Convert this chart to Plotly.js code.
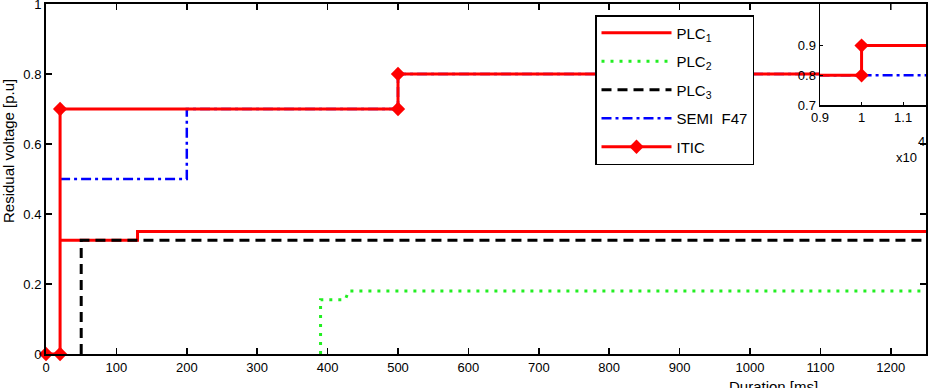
<!DOCTYPE html>
<html>
<head>
<meta charset="utf-8">
<script src="https://cdn.plot.ly/plotly-3.0.1.min.js"></script>
<style>html,body{margin:0;padding:0;background:#fff;}#chart{width:929px;height:388px;}</style>
</head>
<body>
<div id="chart"></div>
<script>
// Durations in ms, residual voltages in p.u.
const plc1Duration = [20, 130, 130, 2000];
const plc1Voltage  = [0.325, 0.325, 0.35, 0.35];

const plc2Duration = [390, 390, 425, 430, 2000];
const plc2Voltage  = [0, 0.155, 0.155, 0.18, 0.18];

const plc3Duration = [50, 50, 2000];
const plc3Voltage  = [0, 0.325, 0.325];

const semiDuration = [20, 200, 200, 500, 500, 1000000];
const semiVoltage  = [0.5, 0.5, 0.7, 0.7, 0.8, 0.8];

const iticDuration = [0, 20, 20, 500, 500, 10000, 10000, 1000000];
const iticVoltage  = [0, 0, 0.7, 0.7, 0.8, 0.8, 0.9, 0.9];

const xTicks = [0,100,200,300,400,500,600,700,800,900,1000,1100,1200];
const yTicks = [0, 0.2, 0.4, 0.6, 0.8, 1];
const yLabels = ['0', '0.2', '0.4', '0.6', '0.8', '1'];
const insetXTicks = [9000, 10000, 11000];
const insetXLabels = ['0.9', '1', '1.1'];
const insetYTicks = [0.7, 0.8, 0.9];

const RED = '#ff0000', GREEN = '#22ee22', BLACK = '#000000', BLUE = '#0000ff';

const traces = [
  {x: plc1Duration, y: plc1Voltage, name: 'PLC<sub>1</sub>', legendgroup: 'g1', mode: 'lines',
   line: {color: RED, width: 3}},
  {x: plc2Duration, y: plc2Voltage, name: 'PLC<sub>2</sub>', legendgroup: 'g2', mode: 'lines',
   line: {color: GREEN, width: 3, dash: '3px,6px'}},
  {x: plc3Duration, y: plc3Voltage, name: 'PLC<sub>3</sub>', legendgroup: 'g3', mode: 'lines',
   line: {color: BLACK, width: 3, dash: '10px,6px'}},
  {x: semiDuration, y: semiVoltage, name: 'SEMI  F47', legendgroup: 'g4', mode: 'lines',
   line: {color: BLUE, width: 2.5, dash: '10px,4px,3px,4px'}},
  {x: iticDuration, y: iticVoltage, name: 'ITIC', legendgroup: 'g5', mode: 'lines+markers',
   line: {color: RED, width: 3}, marker: {symbol: 'diamond', size: 11, color: RED}, cliponaxis: false},
  // inset
  {x: semiDuration, y: semiVoltage, xaxis: 'x2', yaxis: 'y2', mode: 'lines', showlegend: false,
   line: {color: BLUE, width: 2.5, dash: '10px,4px,3px,4px'}},
  {x: iticDuration, y: iticVoltage, xaxis: 'x2', yaxis: 'y2', mode: 'lines+markers', showlegend: false,
   line: {color: RED, width: 3}, marker: {symbol: 'diamond', size: 11, color: RED}}
];

const L = 46, T = 4, W = 880, H = 350;
const px = v => (v - L) / W;
const py = v => (T + H - v) / H;

const axisCommon = {
  showgrid: false, zeroline: false, showline: true, linecolor: BLACK, linewidth: 2,
  ticks: 'inside', tickcolor: BLACK, tickwidth: 1.5, ticklen: 6, mirror: 'ticks',
  tickfont: {size: 13, color: BLACK}, ticklabeloverflow: 'allow'
};

const layout = {
  width: 929, height: 388,
  margin: {l: L, r: 929 - L - W, t: T, b: 388 - T - H},
  paper_bgcolor: '#ffffff', plot_bgcolor: '#ffffff',
  font: {family: 'Liberation Sans, Arial, sans-serif', size: 13, color: BLACK},
  showlegend: true,
  xaxis: Object.assign({}, axisCommon, {range: [0, 1250], tickvals: xTicks, domain: [0, 1]}),
  yaxis: Object.assign({}, axisCommon, {range: [0, 1], tickvals: yTicks, ticktext: yLabels, domain: [0, 1]}),
  xaxis2: {domain: [px(820), 1], anchor: 'y2', range: [9000, 11550], tickvals: insetXTicks, ticktext: insetXLabels,
    showgrid: false, zeroline: false, showline: true, mirror: true, linecolor: BLACK, linewidth: 1.5,
    ticks: 'inside', ticklen: 3, tickcolor: BLACK, tickfont: {size: 13}, ticklabeloverflow: 'allow'},
  yaxis2: {domain: [py(105), 1], anchor: 'x2', range: [0.7, 1.04], tickvals: insetYTicks,
    showgrid: false, zeroline: false, showline: true, mirror: true, linecolor: BLACK, linewidth: 1.5,
    ticks: 'inside', ticklen: 3, tickcolor: BLACK, tickfont: {size: 13}, ticklabeloverflow: 'allow'},
  legend: {x: px(595), y: py(15), xanchor: 'left', yanchor: 'top', bgcolor: '#ffffff',
    bordercolor: BLACK, borderwidth: 1.5, font: {size: 15}, itemwidth: 70,
    traceorder: 'grouped', tracegroupgap: 6},
  shapes: [
    {type: 'line', xref: 'x', yref: 'paper', x0: 1200, x1: 1200, y0: 1, y1: 1 - 6 / H,
     line: {color: BLACK, width: 1.5}, layer: 'above'}
  ],
  annotations: [
    {text: 'Residual voltage [p.u]', xref: 'paper', yref: 'paper', x: px(8), y: py(151),
     textangle: -90, showarrow: false, xanchor: 'center', yanchor: 'middle', font: {size: 15}},
    {text: 'Duration [ms]', xref: 'paper', yref: 'paper', x: px(773), y: py(376),
     showarrow: false, xanchor: 'center', yanchor: 'top', font: {size: 15}},
    {text: 'x10', xref: 'paper', yref: 'paper', x: px(906), y: py(158),
     showarrow: false, xanchor: 'center', yanchor: 'middle', font: {size: 13}},
    {text: '4', xref: 'paper', yref: 'paper', x: px(921), y: py(141),
     showarrow: false, xanchor: 'center', yanchor: 'middle', font: {size: 13}}
  ]
};

Plotly.newPlot('chart', traces, layout, {displayModeBar: false, staticPlot: true});
</script>
</body>
</html>
